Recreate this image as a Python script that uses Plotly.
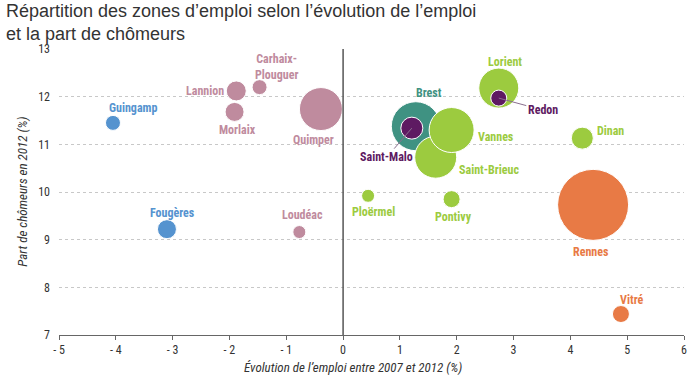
import plotly.graph_objects as go

# Data (drawing order)
zones = ["Guingamp", "Fougères", "Lannion", "Carhaix-<br>Plouguer", "Morlaix", "Quimper", "Loudéac",
         "Brest", "Saint-Brieuc", "Vannes", "Saint-Malo", "Lorient", "Redon", "Dinan",
         "Ploërmel", "Pontivy", "Rennes", "Vitré"]
evol_emploi = [-4.05, -3.10, -1.88, -1.47, -1.91, -0.39, -0.77,
               1.28, 1.63, 1.91, 1.21, 2.74, 2.74, 4.21,
               0.44, 1.91, 4.40, 4.89]
part_chomeurs = [11.45, 9.22, 12.12, 12.20, 11.68, 11.74, 9.16,
                 11.38, 10.73, 11.30, 11.34, 12.18, 11.97, 11.13,
                 9.92, 9.85, 9.73, 7.44]
taille = [15, 19, 20, 15, 19, 43, 13,
          49, 42, 45, 22, 40, 16, 22,
          13, 17, 71, 17]
groupe = ["bleu", "bleu", "rose", "rose", "rose", "rose", "rose",
          "teal", "vert", "vert", "violet", "vert", "violet", "vert",
          "vert", "vert", "orange", "orange"]

x_ticks = [-5, -4, -3, -2, -1, 0, 1, 2, 3, 4, 5, 6]
x_ticklabels = ["- 5", "- 4", "- 3", "- 2", "- 1", "0", "1", "2", "3", "4", "5", "6"]
y_ticks = [7, 8, 9, 10, 11, 12, 13]

# Styles
couleurs = {"bleu": "#5593CF", "rose": "#BF8B9E", "teal": "#3F9282", "vert": "#9CCB3F",
            "violet": "#5E1A62", "orange": "#E87A45"}
label_dx = [20, 6, -31, 17, 3, -7, 3, 13, 53, 44, -25, 6, 44, 28, 5, 2, -2, 11]
label_dy = [-15, -16, 0, -20, 18, 31, -17, -33, 13, 7, 29, -26, 12, -7, 16, 18, 47, -14]

label_font = "Roboto Condensed, Arial Narrow, DejaVu Sans Condensed, sans-serif"

fig = go.Figure()
fig.add_trace(go.Scatter(
    x=evol_emploi, y=part_chomeurs, mode="markers",
    marker=dict(size=taille, sizemode="diameter",
                color=[couleurs[g] for g in groupe],
                opacity=1, line=dict(color="white", width=1)),
    hoverinfo="text", text=zones, showlegend=False,
))

annotations = []
for name, x, y, g, dx, dy in zip(zones, evol_emploi, part_chomeurs, groupe, label_dx, label_dy):
    if name in ("Saint-Malo", "Redon"):
        annotations.append(dict(
            x=x, y=y, xref="x", yref="y", text="<b>%s</b>" % name,
            showarrow=True, arrowhead=0, arrowwidth=1, arrowcolor="#8a6f8e",
            ax=dx, ay=dy, standoff=0,
            font=dict(family=label_font, size=12, color=couleurs[g])))
    else:
        annotations.append(dict(
            x=x, y=y, xref="x", yref="y", text="<b>%s</b>" % name,
            showarrow=False, xshift=dx, yshift=-dy,
            font=dict(family=label_font, size=12, color=couleurs[g])))

annotations.append(dict(
    x=(354 - 59) / 627, y=-0.082, xref="paper", yref="paper", showarrow=False,
    text="<i>Évolution de l’emploi entre 2007 et 2012 (%)</i>", yanchor="top",
    font=dict(family=label_font, size=13, color="#333")))
annotations.append(dict(
    x=-0.075, y=0.5, xref="paper", yref="paper", showarrow=False, textangle=-90,
    text="<i>Part de chômeurs en 2012 (%)</i>",
    font=dict(family=label_font, size=13, color="#333")))
annotations.append(dict(
    x=-54 / 627, y=1 + 49 / 286, xref="paper", yref="paper", showarrow=False,
    text="Répartition des zones d’emploi selon l’évolution de l’emploi<br>et la part de chômeurs",
    align="left", xanchor="left", yanchor="top", borderpad=0,
    font=dict(family="Liberation Sans, Arial, sans-serif", size=18, color="#333")))

fig.update_layout(
    width=699, height=377,
    margin=dict(l=59, r=13, t=49, b=42),
    paper_bgcolor="white", plot_bgcolor="white",
    annotations=annotations,
    shapes=[dict(type="line", x0=0, x1=0, y0=0, y1=1, xref="x", yref="paper",
                 line=dict(color="#555", width=1.5))],
    xaxis=dict(range=[-5, 6], tickvals=x_ticks, ticktext=x_ticklabels,
               showgrid=False, zeroline=False, showline=True, linecolor="#666", linewidth=1,
               ticks="outside", ticklen=4, tickcolor="#666",
               tickfont=dict(family=label_font, size=12, color="#333")),
    yaxis=dict(range=[7, 13], tickvals=y_ticks, showgrid=True, gridcolor="#c8c8c8",
               griddash="dot", gridwidth=1, zeroline=False, showline=False,
               ticks="", ticklabelstandoff=8,
               tickfont=dict(family=label_font, size=12, color="#333")),
)

fig.write_html("out.html", config={"displayModeBar": False},
               post_script="document.body.style.margin='0';")
